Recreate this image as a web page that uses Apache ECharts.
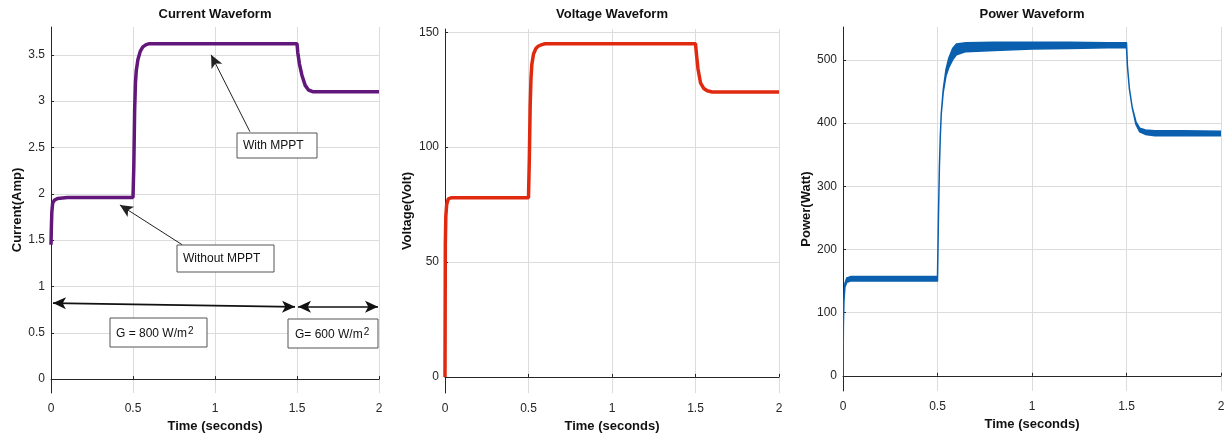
<!DOCTYPE html>
<html>
<head>
<meta charset="utf-8">
<script src="https://cdn.jsdelivr.net/npm/echarts@6/dist/echarts.min.js"></script>
<style>
  html, body { margin: 0; padding: 0; background: #fff; }
  #main { width: 1232px; height: 439px; }
</style>
</head>
<body>
<div id="main"></div>
<script>
// shared time base (seconds)
const time = [0, 0.002, 0.005, 0.01, 0.02, 0.04, 0.1, 0.3, 0.5, 0.505, 0.51, 0.515, 0.52, 0.53, 0.545, 0.56, 0.58, 0.6, 0.65, 0.8, 1.0, 1.2, 1.4, 1.5, 1.505, 1.515, 1.53, 1.55, 1.57, 1.6, 1.65, 1.8, 2.0];

// current (A)
const current = [1.45, 1.62, 1.8, 1.9, 1.93, 1.95, 1.96, 1.96, 1.96, 2.3, 2.9, 3.2, 3.33, 3.45, 3.54, 3.585, 3.61, 3.62, 3.62, 3.62, 3.62, 3.62, 3.62, 3.62, 3.52, 3.4, 3.28, 3.17, 3.12, 3.1, 3.1, 3.1, 3.1];

// voltage (V)
const voltage = [0, 58, 70, 75, 77.5, 78, 78, 78, 78, 95, 118, 130, 136, 140.5, 143, 144, 144.6, 145, 145, 145, 145, 145, 145, 145, 141, 134, 128, 125.5, 124.5, 124, 124, 124, 124];

// power (W), ripple band
const powerUpper = [0, 80, 125, 146, 155, 157, 157, 157, 157, 250, 330, 380, 415, 452, 485, 503, 518, 525, 527, 528, 528, 528, 527, 527, 490, 455, 425, 402, 392, 389, 388, 388, 387];
const powerLower = [0, 78, 118, 140, 148, 150, 150, 150, 150, 250, 330, 380, 415, 448, 475, 488, 500, 508, 513, 515, 517, 518, 519, 519, 490, 455, 425, 398, 386, 382, 380, 380, 380];

const currentTicks = [0, 0.5, 1, 1.5, 2, 2.5, 3, 3.5];
const voltageTicks = [0, 50, 100, 150];
const powerTicks = [0, 100, 200, 300, 400, 500];

const titles = ['Current Waveform', 'Voltage Waveform', 'Power Waveform'];
const yNames = ['Current(Amp)', 'Voltage(Volt)', 'Power(Watt)'];

const pairs = (ys) => time.map((t, i) => [t, ys[i]]);

const FONT = 'Liberation Sans, Arial, sans-serif';
const ink = '#262626';
const gridColor = '#dcdcdc';
const powerColor = '#0a60ae';

function xAxisFor(idx) {
  return {
    gridIndex: idx, type: 'value', min: 0, max: 2, interval: 0.5,
    name: 'Time (seconds)', nameLocation: 'middle', nameGap: 21,
    nameTextStyle: { fontFamily: FONT, fontWeight: 'bold', fontSize: 13, color: '#111' },
    axisLine: { lineStyle: { color: ink, width: 1 } },
    axisTick: { inside: true, length: 3, lineStyle: { color: ink } },
    axisLabel: { fontFamily: FONT, fontSize: 12, color: ink, margin: 10,
      formatter: v => String(v) },
    splitLine: { show: true, lineStyle: { color: gridColor, width: 1 } }
  };
}

function yAxisFor(idx, min, max, ticks, gap) {
  return {
    gridIndex: idx, type: 'value', min: min, max: max,
    name: yNames[idx], nameLocation: 'middle', nameGap: gap, nameRotate: 90,
    nameTextStyle: { fontFamily: FONT, fontWeight: 'bold', fontSize: 13, color: '#111' },
    axisLine: { show: true, lineStyle: { color: ink, width: 1 } },
    axisTick: { show: true, inside: true, length: 3, lineStyle: { color: ink }, customValues: ticks },
    axisLabel: { fontFamily: FONT, fontSize: 12, color: ink, margin: 6, customValues: ticks,
      formatter: v => String(v) },
    splitLine: { show: true, lineStyle: { color: gridColor, width: 1 } }
  };
}

const arrowLine = { color: '#222', width: 1, type: 'solid' };
const boldArrow = { color: '#111', width: 1.6, type: 'solid' };

function box(x, y, w, h) {
  return { type: 'rect', z: 100, shape: { x: x, y: y, width: w, height: h },
    style: { fill: '#fff', stroke: '#555', lineWidth: 1 } };
}
function label(x, y, text) {
  return { type: 'text', z: 101, x: x, y: y,
    style: { text: text, fill: '#111', font: '12px ' + FONT, verticalAlign: 'middle' } };
}
function gLabel(x, y, main) {
  return { type: 'text', z: 101, x: x, y: y, style: {
    text: '{a|' + main + '}{s|2}', verticalAlign: 'top',
    rich: {
      a: { fontFamily: FONT, fontSize: 12, fill: '#111', verticalAlign: 'bottom', lineHeight: 14 },
      s: { fontFamily: FONT, fontSize: 10, fill: '#111', verticalAlign: 'top', lineHeight: 12, padding: [0, 0, 8, 1] }
    } } };
}

const chart = echarts.init(document.getElementById('main'));
chart.setOption({
  animation: false,
  backgroundColor: '#fff',
  title: titles.map((t, i) => ({
    text: t, left: [215, 612, 1032][i], top: 8, textAlign: 'center', padding: 0,
    textStyle: { fontFamily: FONT, fontWeight: 'bold', fontSize: 13, color: '#111' }
  })),
  grid: [
    { left: 51, top: 27, width: 328, height: 366 },
    { left: 445, top: 29, width: 334, height: 364 },
    { left: 843, top: 27, width: 378, height: 364 }
  ],
  xAxis: [xAxisFor(0), xAxisFor(1), xAxisFor(2)],
  yAxis: [
    yAxisFor(0, -0.15, 3.8, currentTicks, 27),
    yAxisFor(1, -7, 151.4, voltageTicks, 31),
    yAxisFor(2, -24, 552, powerTicks, 30)
  ],
  series: [
    {
      name: 'Current', type: 'line', xAxisIndex: 0, yAxisIndex: 0,
      data: pairs(current), showSymbol: false,
      lineStyle: { color: '#62177a', width: 3.5 },
      markLine: {
        silent: true, animation: false, label: { show: false },
        lineStyle: arrowLine,
        itemStyle: { color: '#111' },
        data: [
          [{ coord: [1.213, 2.67], symbol: 'none', lineStyle: arrowLine },
           { coord: [0.976, 3.50], symbol: 'arrow', symbolSize: [9, 13] }],
          [{ coord: [0.80, 1.45], symbol: 'none', lineStyle: arrowLine },
           { coord: [0.42, 1.88], symbol: 'arrow', symbolSize: [9, 13] }],
          [{ coord: [0.012, 0.82], symbol: 'arrow', symbolSize: [9, 13], lineStyle: boldArrow },
           { coord: [1.488, 0.78], symbol: 'arrow', symbolSize: [9, 13] }],
          [{ coord: [1.506, 0.78], symbol: 'arrow', symbolSize: [9, 13], lineStyle: boldArrow },
           { coord: [1.994, 0.78], symbol: 'arrow', symbolSize: [9, 13] }]
        ]
      }
    },
    {
      name: 'Voltage', type: 'line', xAxisIndex: 1, yAxisIndex: 1,
      data: pairs(voltage), showSymbol: false,
      lineStyle: { color: '#e0290e', width: 3.5 }
    },
    {
      // ripple band between upper and lower power envelopes
      name: 'Power', type: 'custom', xAxisIndex: 2, yAxisIndex: 2,
      data: [[1, 300]], clip: true,
      renderItem: function (params, api) {
        const up = time.map((t, i) => api.coord([t, powerUpper[i]]));
        const lo = time.map((t, i) => api.coord([t, powerLower[i]])).reverse();
        return {
          type: 'polygon',
          shape: { points: up.concat(lo) },
          style: { fill: powerColor, stroke: powerColor, lineWidth: 1.5, lineJoin: 'round' }
        };
      }
    }
  ],
  graphic: [
    box(237, 133, 80, 25), label(243, 146, 'With MPPT'),
    box(177, 245, 97, 27), label(183, 259, 'Without MPPT'),
    box(110, 318, 97, 29), gLabel(116, 326, 'G = 800 W/m'),
    box(288, 319, 90, 29), gLabel(295, 327, 'G= 600 W/m')
  ]
});
</script>
</body>
</html>
